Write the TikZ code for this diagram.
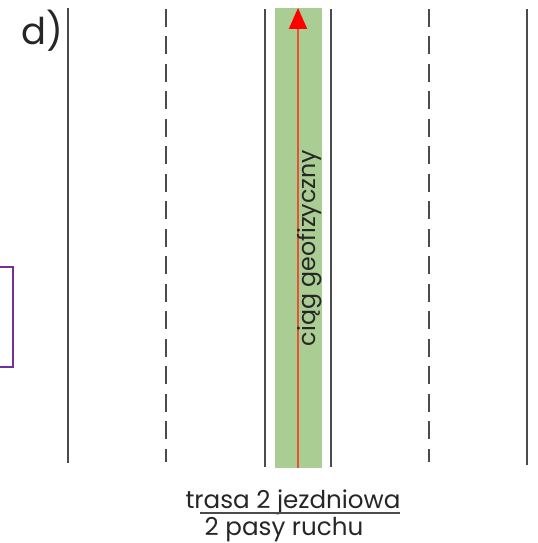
\documentclass[tikz,border=0pt]{standalone}
\usepackage{fontspec}
\setmainfont{Poppins}
\usepackage{tikz}
\usetikzlibrary{positioning, arrows.meta}
\definecolor{lineGray}{RGB}{75,75,75}
\definecolor{stripGreen}{RGB}{170,205,148}
\definecolor{traceRed}{RGB}{232,82,52}
\definecolor{frameViolet}{RGB}{112,48,160}

\begin{document}
\begin{tikzpicture}[
    x=0.02cm, y=-0.02cm,
    edge line/.style={lineGray, line width=1.2pt},
    lane line/.style={lineGray, line width=1.2pt, dash pattern=on 0.36cm off 0.19cm},
    label text/.style={inner sep=0pt, font=\fontsize{14}{16}\selectfont, text=black!85}
]
    \useasboundingbox (0,0) rectangle (537,543);

    % green strip along the route axis
    \fill[stripGreen] (275,8) rectangle (322,468);

    % road edges and lane markings
    \coordinate (edgeL top) at (68,8);   \coordinate (edgeL bot) at (68,463);
    \coordinate (laneL top) at (166,9);  \coordinate (laneL bot) at (166,462);
    \coordinate (stripL top) at (265,9); \coordinate (stripL bot) at (265,467);
    \coordinate (stripR top) at (331,9); \coordinate (stripR bot) at (331,467);
    \coordinate (laneR top) at (429,9);  \coordinate (laneR bot) at (429,462);
    \coordinate (edgeR top) at (527,9);  \coordinate (edgeR bot) at (527,465);

    \draw[edge line] (edgeL top) -- (edgeL bot);
    \draw[edge line] (edgeR top) -- (edgeR bot);
    \draw[edge line] (stripL top) -- (stripL bot);
    \draw[edge line] (stripR top) -- (stripR bot);
    \draw[lane line] (laneL top) -- (laneL bot);
    \draw[lane line] (laneR top) -- (laneR bot);

    % geophysical profile
    \coordinate (trace start) at (298,468);
    \coordinate (trace end) at (298,8);
    \draw[traceRed, line width=1.1pt, -{Triangle[length=0.42cm, width=0.36cm, color=red]}] (trace start) -- (trace end);
    \node[label text, font=\fontsize{13.5}{16}\selectfont, rotate=90, anchor=south] (trace label) at (322,248) {ciąg geofizyczny};

    % panel letter
    \node[inner sep=0pt, font=\fontsize{21}{24}\selectfont, text=black!85] (panel) at (42,31) {d)};

    % frame cut by the left margin
    \draw[frameViolet, line width=1.1pt] (-5,267) -- (13,267) -- (13,367) -- (-5,367);

    % caption
    \node[label text, anchor=base] (route) at (293,508) {trasa 2 jezdniowa};
    \node[label text, anchor=base] (lanes) at (284,535) {2 pasy ruchu};
    \coordinate (rule start) at (200,513);
    \coordinate (rule end) at (400,513);
    \draw[lineGray, line width=0.9pt] (rule start) -- (rule end);
\end{tikzpicture}
\end{document}
